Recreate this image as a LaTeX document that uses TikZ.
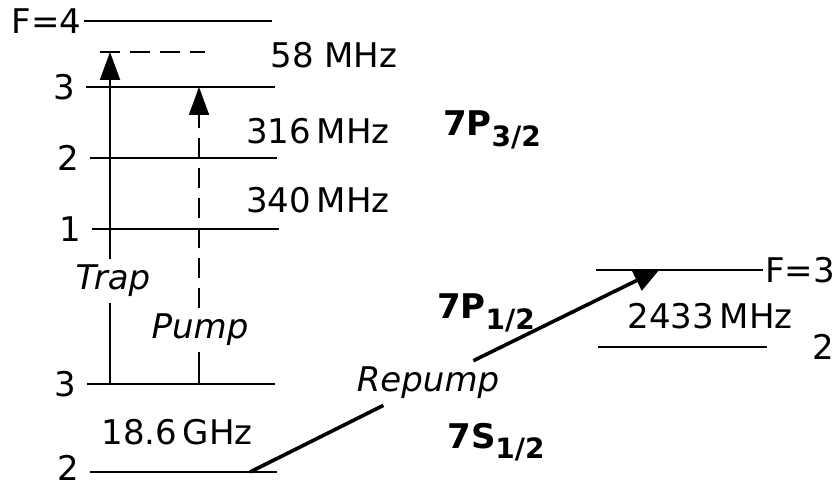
\documentclass[tikz,border=0pt]{standalone}
\usepackage{fontspec}
\setmainfont{DejaVu Sans}
\usetikzlibrary{arrows.meta,positioning,calc}
\tikzset{
  level/.style={line width=1.1pt},
  lab/.style={font=\fontsize{17}{20}\selectfont, inner sep=1pt},
  beam/.style={line width=1pt, -{Triangle[length=14pt,width=10pt]}},
}
\newcommand{\term}[2]{\textbf{#1\raisebox{-0.55ex}{\fontsize{14}{16}\selectfont #2}}}

\begin{document}
\begin{tikzpicture}[x=0.5pt, y=-0.5pt]
  \useasboundingbox (0,0) rectangle (838,486);
  % 7P_{3/2} hyperfine levels
  \coordinate (p4w) at (84,21);  \coordinate (p4e) at (272,21);
  \coordinate (p3w) at (86,87);  \coordinate (p3e) at (275,87);
  \coordinate (p2w) at (90,158); \coordinate (p2e) at (277,158);
  \coordinate (p1w) at (92,229); \coordinate (p1e) at (279,229);
  \draw[level] (p4w) -- (p4e);
  \draw[level] (p3w) -- (p3e);
  \draw[level] (p2w) -- (p2e);
  \draw[level] (p1w) -- (p1e);
  \node[lab, left] (f4) at (p4w) {F=4};
  \node[lab, left=4pt of p3w] (f3) {3};
  \node[lab, left=4pt of p2w] (f2) {2};
  \node[lab, left=4pt of p1w] (f1) {1};
  % detuned trap level
  \coordinate (detw) at (100,52); \coordinate (dete) at (205,52);
  \draw[level, dash pattern=on 10pt off 5pt] (detw) -- (dete);
  % 7S_{1/2} ground levels
  \coordinate (s3w) at (87,384);  \coordinate (s3e) at (275,384);
  \coordinate (s2w) at (90,472);  \coordinate (s2e) at (277,472);
  \draw[level] (s3w) -- (s3e);
  \draw[level] (s2w) -- (s2e);
  \node[lab, left=4pt of s3w] (g3) {3};
  \node[lab, left=4pt of s2w, yshift=2pt] (g2) {2};
  % 7P_{1/2} levels
  \coordinate (q3w) at (596,270); \coordinate (q3e) at (763,270);
  \coordinate (q2w) at (598,347); \coordinate (q2e) at (767,347);
  \draw[level] (q3w) -- (q3e);
  \draw[level] (q2w) -- (q2e);
  \node[lab, right, inner sep=1pt] (h3) at (q3e) {F=3};
  \node[lab] (h2) at (823,347) {2};
  % splittings and terms
  \node[lab] (s58) at (334,55) {58 MHz};
  \node[lab] (s316) at (318,131) {316\,MHz};
  \node[lab] (s340) at (318,200) {340\,MHz};
  \node[lab] (s186) at (177,432) {18.6\,GHz};
  \node[lab] (s2433) at (710,316) {2433\,MHz};
  \node[lab] (t32) at (492,130) {\term{7P}{3/2}};
  \node[lab] (t12) at (486,313) {\term{7P}{1/2}};
  \node[lab] (ts) at (496,442) {\term{7S}{1/2}};
  % Trap beam
  \coordinate (tr0) at (110,384); \coordinate (tr1) at (110,52);
  \node[lab, font=\fontsize{17}{20}\selectfont\itshape, inner sep=3pt] (trap) at (113,281) {Trap};
  \draw[line width=1pt] (tr0) -- (tr0 |- trap.south);
  \draw[beam] (tr0 |- trap.north) -- (tr1);
  % Pump beam
  \coordinate (pu0) at (199,384); \coordinate (pu1) at (199,87);
  \node[lab, font=\fontsize{17}{20}\selectfont\itshape, inner sep=3pt] (pump) at (200,330) {Pump};
  \draw[line width=1pt] (pu0) -- (pu0 |- pump.south);
  \draw[beam, dash pattern=on 10pt off 5pt] (pu0 |- pump.north) -- (pu1);
  % Repump beam
  \coordinate (rp0) at (250,472); \coordinate (rp1) at (660,269);
  \node[lab, font=\fontsize{17}{20}\selectfont\itshape, inner sep=3pt] (rep) at (428,383) {Repump};
  \draw[line width=1.8pt] (rp0) -- (rep);
  \draw[line width=1.8pt, -{Triangle[length=13pt,width=11pt]}] (rep) -- (rp1);
\end{tikzpicture}
\end{document}
